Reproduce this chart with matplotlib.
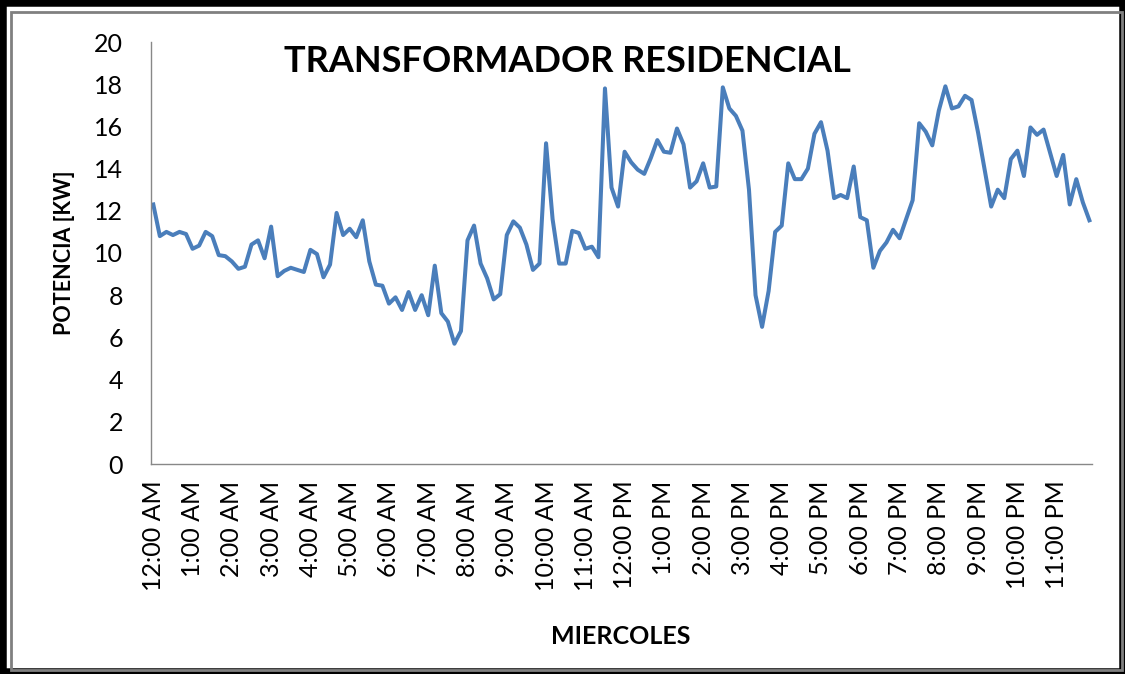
import numpy as np
import matplotlib.pyplot as plt
import matplotlib.patches as patches

# potencia cada 10 minutos (144 muestras)
potencia = [
    12.3, 10.8, 11.0, 10.85, 11.0, 10.9, 10.2, 10.35, 11.0, 10.8,
    9.9, 9.85, 9.6, 9.25, 9.35, 10.4, 10.6, 9.75, 11.25, 8.9,
    9.15, 9.3, 9.2, 9.1, 10.15, 9.95, 8.85, 9.45, 11.9, 10.85,
    11.15, 10.75, 11.55, 9.6, 8.5, 8.45, 7.6, 7.9, 7.3, 8.15,
    7.3, 8.0, 7.05, 9.4, 7.15, 6.75, 5.7, 6.3, 10.6, 11.3,
    9.5, 8.8, 7.8, 8.05, 10.85, 11.5, 11.2, 10.4, 9.2, 9.5,
    15.2, 11.6, 9.5, 9.5, 11.05, 10.95, 10.2, 10.3, 9.8, 17.8,
    13.1, 12.2, 14.8, 14.3, 13.95, 13.75, 14.5, 15.35, 14.8, 14.75,
    15.9, 15.15, 13.1, 13.4, 14.25, 13.1, 13.15, 17.85, 16.85, 16.5,
    15.8, 13.0, 8.0, 6.5, 8.2, 11.0, 11.3, 14.25, 13.5, 13.5,
    14.0, 15.65, 16.2, 14.85, 12.6, 12.75, 12.6, 14.1, 11.7, 11.55,
    9.3, 10.1, 10.5, 11.1, 10.7, 11.6, 12.5, 16.15, 15.75, 15.1,
    16.75, 17.9, 16.85, 16.95, 17.45, 17.25, 15.7, 13.95, 12.2, 13.0,
    12.6, 14.45, 14.85, 13.65, 15.95, 15.6, 15.85, 14.75, 13.65, 14.65,
    12.3, 13.5, 12.4, 11.55,
]
horas = ["12:00 AM"] + [f"{h}:00 AM" for h in range(1, 12)] + \
        ["12:00 PM"] + [f"{h}:00 PM" for h in range(1, 12)]

plt.rcParams['font.family'] = ['Lato', 'DejaVu Sans']

fig = plt.figure(figsize=(11.25, 6.74), dpi=100)
ax = fig.add_axes([151 / 1125, 1 - 464 / 674, 941 / 1125, 422 / 674])

x = np.arange(len(potencia))
ax.plot(x, potencia, color="#4a7ebb", linewidth=2.9, solid_joinstyle="round")

ax.set_xlim(-0.35, 143.4)
ax.set_ylim(0, 20)
ax.set_yticks(range(0, 21, 2))
ax.set_xticks(np.arange(0, 144, 6))
ax.set_xticklabels(horas, rotation=90)
ax.tick_params(axis="both", length=0, labelsize=18, colors="black")
ax.tick_params(axis="y", pad=20)
ax.tick_params(axis="x", pad=12)
for s in ["top", "right"]:
    ax.spines[s].set_visible(False)
for s in ["left", "bottom"]:
    ax.spines[s].set_color("#888888")
    ax.spines[s].set_linewidth(1.0)

ax.set_ylabel("POTENCIA [KW]", fontsize=15.5, fontweight="bold", labelpad=14)
fig.text(621 / 1125, 1 - 637 / 674, "MIERCOLES", fontsize=18, fontweight="bold",
         ha="center", va="center")
fig.text(567 / 1125, 1 - 62 / 674, "TRANSFORMADOR RESIDENCIAL", fontsize=26,
         fontweight="bold", ha="center", va="center")

# marco doble
fig.patches.append(patches.Rectangle((0, 0), 1, 1, transform=fig.transFigure,
                                     fill=False, edgecolor="black", linewidth=9))
fig.patches.append(patches.Rectangle((11 / 1125, 4 / 674), 1111 / 1125, 658 / 674,
                                     transform=fig.transFigure, fill=False,
                                     edgecolor="#808080", linewidth=2))

fig.savefig("out.png", dpi=100)
